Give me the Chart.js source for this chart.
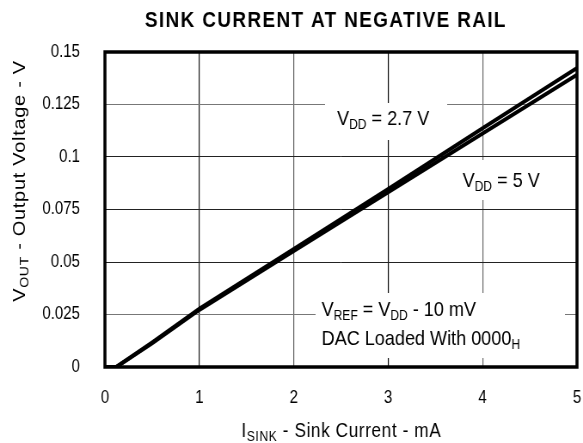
<!DOCTYPE html>
<html><head><meta charset="utf-8">
<script src="https://cdn.jsdelivr.net/npm/chart.js@4"></script>
<style>
html,body{margin:0;padding:0;background:#fff;overflow:hidden;width:583px;height:443px}
#w{width:678px;height:443px;transform:scaleX(0.8599);transform-origin:0 0}
</style>
</head><body><div id="w"><canvas id="c" width="678" height="443"></canvas></div>
<script>
const currentMA = [0, 0.12, 0.5, 1, 2, 3, 4, 5];
const vout27 = [0, 0, 0.0117, 0.0278, 0.0562, 0.0847, 0.1137, 0.1424];
const vout5  = [0, 0, 0.0113, 0.0272, 0.0553, 0.0832, 0.1112, 0.1392];
const xTicks = [0, 1, 2, 3, 4, 5];
const yTicks = [0, 0.025, 0.05, 0.075, 0.1, 0.125, 0.15];
const titleText = "SINK CURRENT AT NEGATIVE RAIL";

const F = "Liberation Sans, Arial, sans-serif";
function pts(xs, ys){ return xs.map((x,i)=>({x:x,y:ys[i]})); }

function drawRich(ctx, segs, x, y, size, align, spacing){
  const sub = Math.round(size*0.68);
  ctx.letterSpacing = (spacing||0)+"px";
  let w = 0;
  segs.forEach(s=>{ ctx.font = (s.s? sub : size)+"px "+F; w += ctx.measureText(s.t).width; });
  let cx = align==="center" ? x - w/2 : x;
  ctx.textAlign = "left"; ctx.textBaseline = "alphabetic";
  segs.forEach(s=>{
    ctx.font = (s.s? sub : size)+"px "+F;
    ctx.fillText(s.t, cx, s.s ? y + size*0.18 : y);
    cx += ctx.measureText(s.t).width;
  });
  ctx.letterSpacing = "0px";
}

const notes = {
  id: "notes",
  afterDraw(chart){
    const ctx = chart.ctx;
    ctx.save();
    ctx.fillStyle = "#fff";
    ctx.fillRect(378, 103, 142, 37);
    ctx.fillRect(533, 160, 124, 40);
    ctx.fillRect(367, 293, 290, 65);
    ctx.fillStyle = "#000";
    drawRich(ctx, [{t:"V"},{t:"DD",s:1},{t:" = 2.7 V"}], 392, 125, 21, "left");
    drawRich(ctx, [{t:"V"},{t:"DD",s:1},{t:" = 5 V"}], 538, 187, 21, "left");
    drawRich(ctx, [{t:"V"},{t:"REF",s:1},{t:" = V"},{t:"DD",s:1},{t:" - 10 mV"}], 374, 316, 21, "left");
    drawRich(ctx, [{t:"DAC Loaded With 0000"},{t:"H",s:1}], 374, 345, 21, "left");
    // title
    ctx.letterSpacing = "1.6px";
    ctx.font = "bold 22px "+F; ctx.textAlign = "center"; ctx.textBaseline="alphabetic";
    ctx.fillText(titleText, 379, 27);
    ctx.letterSpacing = "0px";
    // x axis title
    drawRich(ctx, [{t:"I"},{t:"SINK",s:1},{t:" - Sink Current - mA"}], 397, 437, 20, "center", 0.7);
    // y axis title
    ctx.translate(29, 181); ctx.rotate(-Math.PI/2);
    drawRich(ctx, [{t:"V"},{t:"OUT",s:1},{t:" - Output Voltage - V"}], 0, 0, 20, "center", 0.7);
    ctx.restore();
    // border
    const a = chart.chartArea;
    ctx.save(); ctx.strokeStyle="#000"; ctx.lineWidth=3.5;
    ctx.strokeRect(a.left, a.top, a.right-a.left, a.bottom-a.top);
    ctx.restore();
  }
};

const xGridCol = ["#000","#111","#666","#111","#666","#000"];
const yGridCol = ["#000","#777","#222","#222","#222","#777","#000"];

new Chart(document.getElementById("c"), {
  type: "line",
  data: { datasets: [
    { label:"VDD = 2.7 V", data: pts(currentMA, vout27), borderColor:"#000", borderWidth:4, pointRadius:0, tension:0, fill:false },
    { label:"VDD = 5 V", data: pts(currentMA, vout5), borderColor:"#000", borderWidth:4, pointRadius:0, tension:0, fill:false }
  ]},
  options: {
    responsive:false, animation:false, devicePixelRatio:1,
    layout:{ padding:{ top:52, right:7, left:0, bottom:0 } },
    plugins:{ legend:{display:false}, tooltip:{enabled:false}, title:{display:false} },
    scales:{
      x:{ type:"linear", min:0, max:5,
        afterBuildTicks(s){ s.ticks = xTicks.map(v=>({value:v})); },
        afterFit(s){ s.height = 76; s.paddingLeft = 0; s.paddingRight = 0; },
        grid:{ color:(c)=>xGridCol[c.index]||"#333", lineWidth:1.2, drawTicks:false },
        border:{ display:false },
        ticks:{ padding:21, color:"#000", font:{family:F, size:17.5}, maxRotation:0, callback:(v)=>String(v) } },
      y:{ type:"linear", min:0, max:0.15,
        afterBuildTicks(s){ s.ticks = yTicks.map(v=>({value:v})); },
        afterFit(s){ s.width = 122; s.paddingTop = 0; s.paddingBottom = 0; },
        grid:{ color:(c)=>yGridCol[c.index]||"#333", lineWidth:1, drawTicks:false },
        border:{ display:false },
        ticks:{ padding:29, color:"#000", font:{family:F, size:17.5}, callback:(v)=>String(v) } }
    }
  },
  plugins:[notes]
});
</script></body></html>
